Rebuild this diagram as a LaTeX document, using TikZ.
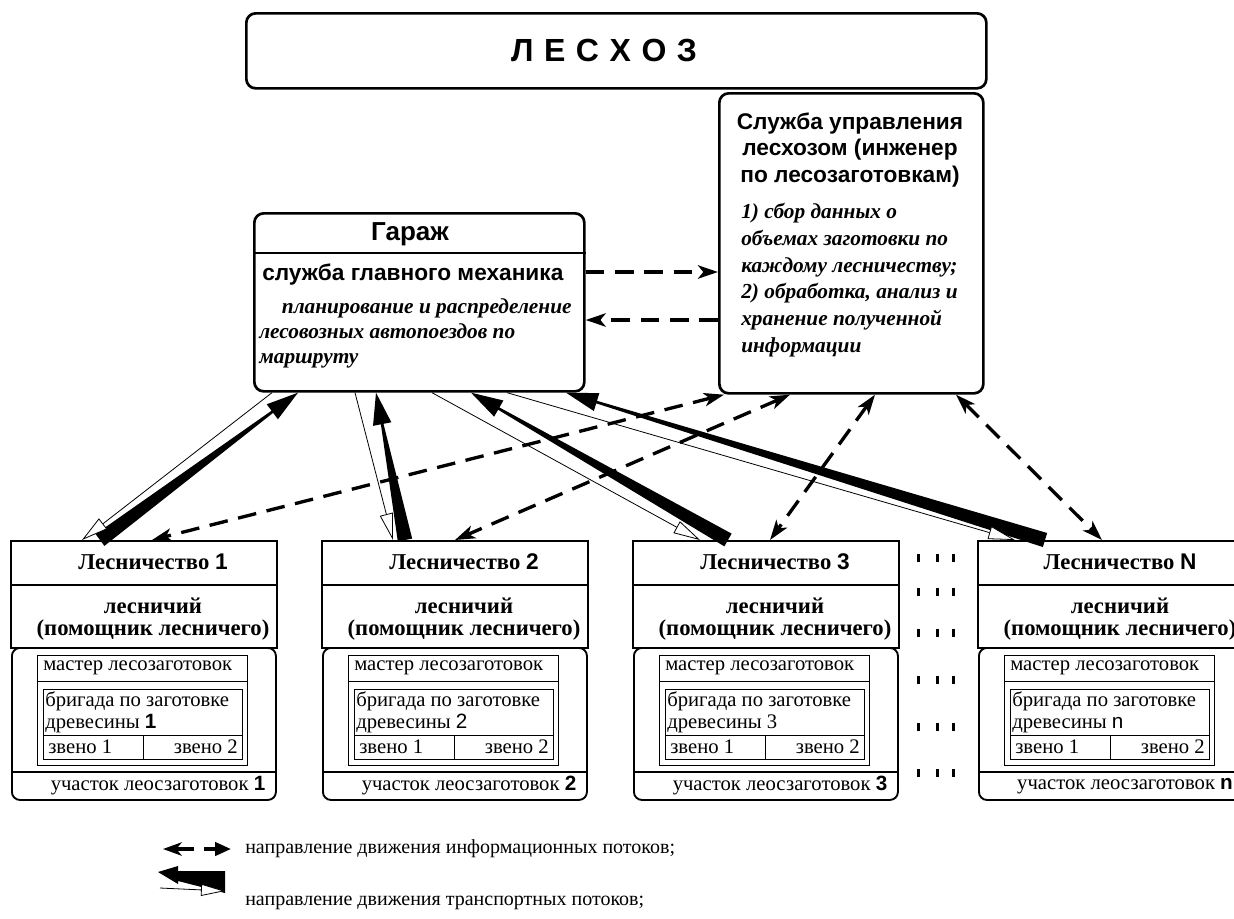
\documentclass[tikz,border=0pt]{standalone}
\usepackage{fontspec}
\setmainfont{Liberation Serif}
\setsansfont{Liberation Sans}
\usetikzlibrary{arrows.meta,calc}

\def\pxu{0.75pt}

% tapered transport arrow: #1 wide end, #2 tip
\newcommand{\wedgearrow}[2]{%
  \coordinate (wa) at #1;
  \coordinate (wb) at #2;
  \coordinate (wc) at ($(wb)!24pt!(wa)$);
  \fill ($(wa)!5.5pt!90:(wb)$) -- ($(wc)!1pt!90:(wb)$) -- ($(wc)!7pt!90:(wb)$) -- (wb)
    -- ($(wc)!7pt!-90:(wb)$) -- ($(wc)!1pt!-90:(wb)$) -- ($(wa)!5.5pt!-90:(wb)$) -- cycle;
}

\tikzset{
  box/.style={draw, line width=2pt, rounded corners=7pt, inner sep=0pt},
  frame/.style={draw, line width=1.4pt, inner sep=0pt},
  cell/.style={draw, line width=0.6pt},
  rule/.style={line width=1.2pt},
  info/.style={line width=2.5pt, dash pattern=on 14pt off 8pt},
  transw/.style={line width=0.6pt, -{Triangle[length=20pt,width=10pt,fill=white,line width=0.6pt]}},
  headsans/.style={font=\sffamily\bfseries\fontsize{17}{20}\selectfont, align=center, inner sep=0pt},
  noteit/.style={font=\bfseries\itshape\fontsize{16}{20}\selectfont, align=left, inner sep=0pt},
  ttl/.style={font=\bfseries\fontsize{17}{17}\selectfont, inner sep=0pt},
  body/.style={font=\fontsize{15.5}{16.5}\selectfont, inner sep=0pt},
  legtext/.style={font=\fontsize{15}{17}\selectfont, inner sep=0pt, anchor=west}
}

\begin{document}
\begin{tikzpicture}[x=0.75pt, y=-0.75pt, >={Stealth[length=15pt,width=10pt,inset=4pt]}]
\useasboundingbox (0,0) rectangle (1234,918);

% top
\node[box, anchor=north west, minimum width=740*\pxu, minimum height=75*\pxu] (lesxoz) at (245,12) {};
\node[font=\sffamily\bfseries\fontsize{24}{26}\selectfont, inner sep=0pt] (lesxozname) at (604,50)
  {Л\hspace{0.33em}Е\hspace{0.33em}С\hspace{0.33em}Х\hspace{0.33em}О\hspace{0.33em}З};

% service
\node[box, anchor=north west, minimum width=264*\pxu, minimum height=300*\pxu] (service) at (718,92) {};
\node[headsans] (servicename) at (850,150) {Служба управления\\лесхозом (инженер\\по лесозаготовкам)};
\node[noteit, anchor=west] (servicetask) at (741,280)
  {1) сбор данных о\\объемах заготовки по\\каждому лесничеству;\\2) обработка, анализ и\\хранение полученной\\информации};

% garage
\node[box, anchor=north west, minimum width=330*\pxu, minimum height=178*\pxu] (garage) at (253,212) {};
\draw[rule] ($(garage.north west)+(0,41)$) -- ($(garage.north east)+(0,41)$);
\node[font=\sffamily\bfseries\fontsize{19.5}{22}\selectfont, inner sep=0pt] (garagename) at (410,234) {Гараж};
\node[font=\sffamily\bfseries\fontsize{17}{20}\selectfont, inner sep=0pt, anchor=west] (mechanic) at (262,275)
  {служба главного механика};
\node[noteit, font=\bfseries\itshape\fontsize{16}{18.75}\selectfont, anchor=west] (garagetask) at (259,333)
  {\hspace*{17pt}планирование и распределение\\лесовозных автопоездов по\\маршруту};

% forestries
\foreach \fx/\fn/\fb/\fk [count=\i] in {10/1/{\sffamily\bfseries 1}/1, 321/2/{\sffamily 2}/2,
    632/3/3/3, 977/N/{\sffamily n}/n}{
  \node[frame, anchor=north west, minimum width=266*\pxu, minimum height=107*\pxu] (f\i) at (\fx,540) {};
  \draw[rule] ($(f\i.north west)+(0,45)$) -- ($(f\i.north east)+(0,45)$);
  \node[ttl] at (\fx+143,562) {Лесничество {\sffamily\fn}};
  \node[ttl, align=center] at (\fx+143,619) {лесничий\\(помощник лесничего)};
  \node[frame, rounded corners=6pt, anchor=north west, minimum width=264*\pxu, minimum height=152*\pxu] (f\i low) at (\fx+1,647) {};
  \draw[cell] (\fx+27,655) rectangle (\fx+237,765);
  \draw[cell] (\fx+27,681) -- (\fx+237,681);
  \node[body, anchor=west] at (\fx+33,668) {мастер лесозаготовок};
  \draw[cell] (\fx+33,689) rectangle (\fx+232,759);
  \draw[cell] (\fx+33,735) -- (\fx+232,735) (\fx+133,735) -- (\fx+133,759);
  \node[body, anchor=west, align=left] at (\fx+35,712) {бригада по заготовке\\древесины \fb};
  \node[body, anchor=west] at (\fx+38,747) {звено 1};
  \node[body, anchor=east] at (\fx+228,747) {звено 2};
  \draw[rule] ($(f\i low.south west)+(0,-29)$) -- ($(f\i low.south east)+(0,-29)$);
  \node[body] at (\fx+148,786) {участок леосзаготовок {\sffamily\bfseries\fk}};
}

% dots between 3 and N
\foreach \y in {558,592,633,680,727,773}
  \foreach \x in {918,937,953}
    \fill (\x-1.5,\y-4) rectangle (\x+1.5,\y+4);

% information flows
\draw[info,->] ($(garage.north east)+(0,60)$) -- ($(service.north west)+(0,180)$);
\draw[info,->] ($(service.north west)+(0,228)$) -- ($(garage.north east)+(0,108)$);
\foreach \i/\sa/\fa in {1/6/142, 2/72/134, 3/157/138, 4/238/125}
  \draw[info,<->] ($(service.south west)+(\sa,0)$) -- ($(f\i.north west)+(\fa,0)$);

% transport flows
\foreach \i/\fa/\sa in {1/90/45, 2/84/123, 3/96/218, 4/68/313}
  \wedgearrow{($(f\i.north west)+(\fa,0)$)}{($(garage.south west)+(\sa,0)$)};
\foreach \i/\sa/\fa in {1/19/72, 2/102/72, 3/179/68, 4/254/38}
  \draw[transw] ($(garage.south west)+(\sa,0)$) -- ($(f\i.north west)+(\fa,0)$);

% legend
\node[legtext] (leginfo) at (245,849) {направление движения информационных потоков;};
\node[legtext] (legtrans) at (245,903) {направление движения транспортных потоков;};
\coordinate (infoL) at ($(leginfo.west)+(-82,0)$);
\coordinate (infoR) at ($(leginfo.west)+(-14,0)$);
\draw[info, {Stealth[length=14pt,width=10pt,inset=4pt]}-{Triangle[length=12pt,width=10pt]}] (infoL) -- (infoR);
\begin{scope}[shift={(legtrans.west)}]
  \fill (-87,-31) -- (-67,-37) -- (-67,-32) -- (-20,-32) -- (-20,-10) -- (-67,-22) -- (-67,-19) -- cycle;
  \draw[line width=0.6pt, -{Triangle[length=18pt,width=9pt,fill=white,line width=0.6pt]}] (-85,-15) -- (-20,-12);
\end{scope}
\end{tikzpicture}
\end{document}
